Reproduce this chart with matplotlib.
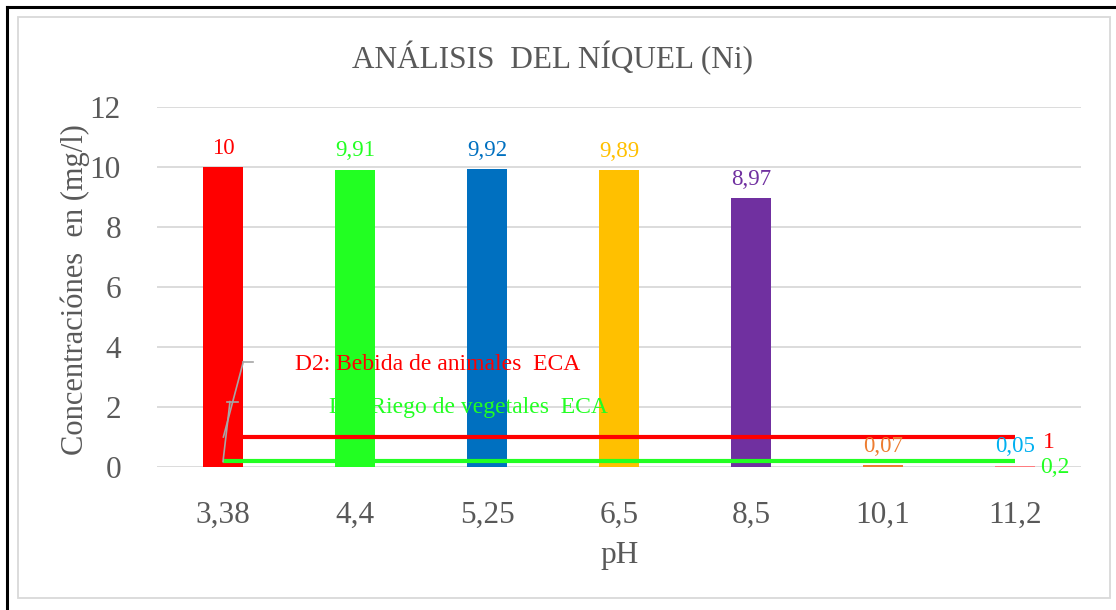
import matplotlib.pyplot as plt
from matplotlib.patches import Rectangle
from matplotlib.lines import Line2D

# datos
ph_labels = ['3,38', '4,4', '5,25', '6,5', '8,5', '10,1', '11,2']
niquel = [10, 9.91, 9.92, 9.89, 8.97, 0.07, 0.05]
etiquetas = ['10', '9,91', '9,92', '9,89', '8,97', '0,07', '0,05']
colores_barra = ['#FF0000', '#22FF22', '#0070C0', '#FFC000', '#7030A0', '#ED7D31', '#FF7C80']
colores_etiq = ['#FF0000', '#22FF22', '#0070C0', '#FFC000', '#7030A0', '#ED7D31', '#00B0F0']
eca_d2 = 1.0   # bebida de animales
eca_d1 = 0.2   # riego de vegetales

plt.rcParams['font.family'] = ['Liberation Serif', 'DejaVu Serif']
gris = '#595959'

fig = plt.figure(figsize=(11.16, 6.10), dpi=100)
W, H = 1116, 610

# marcos
fig.add_artist(Rectangle((18 / W, 1 - 598 / H), (1110 - 18) / W, (598 - 17) / H,
                         transform=fig.transFigure, fill=False, ec='#D9D9D9', lw=1.3))
fig.add_artist(Line2D([6.5 / W, 6.5 / W], [0, 1 - 6.5 / H], transform=fig.transFigure, color='black', lw=2.2))
fig.add_artist(Line2D([6.5 / W, 1], [1 - 6.5 / H, 1 - 6.5 / H], transform=fig.transFigure, color='black', lw=2.2))

ax = fig.add_axes([157 / W, 1 - 467 / H, (1081 - 157) / W, (467 - 107) / H])
x = list(range(len(ph_labels)))

ax.bar(x, niquel, width=0.31, color=colores_barra, zorder=2)
for xi, v, t, c in zip(x, niquel, etiquetas, colores_etiq):
    ax.annotate(t, (xi, v), xytext=(0, 6), textcoords='offset points',
                ha='center', va='bottom', fontsize=16.5, color=c, zorder=5)

# lineas ECA
ax.plot([x[0], x[-1]], [eca_d2, eca_d2], color='#FF0000', lw=3, zorder=3, solid_capstyle='butt')
ax.plot([x[0], x[-1]], [eca_d1, eca_d1], color='#22FF22', lw=3, zorder=3, solid_capstyle='butt')
ax.annotate('1', (x[-1], eca_d2), xytext=(20, -4), textcoords='offset points',
            ha='left', va='center', fontsize=17, color='#FF0000')
ax.annotate('0,2', (x[-1], eca_d1), xytext=(18, -5), textcoords='offset points',
            ha='left', va='center', fontsize=17, color='#22FF22')

ax.text(0.545, 3.4, 'D2: Bebida de animales  ECA', fontsize=17, color='#FF0000',
        ha='left', va='center', zorder=4)
ax.text(0.80, 2.0, 'D1: Riego de vegetales  ECA', fontsize=17, color='#22FF22',
        ha='left', va='center', zorder=4)
# lineas guia de las etiquetas
ax.plot([0.0, 0.053], [eca_d1 - 0.02, 2.18], color='#A6A6A6', lw=1.2, zorder=4)
ax.plot([0.028, 0.115], [2.18, 2.18], color='#A6A6A6', lw=1.2, zorder=4)
ax.plot([0.003, 0.154], [eca_d2, 3.51], color='#A6A6A6', lw=1.2, zorder=4)
ax.plot([0.154, 0.225], [3.51, 3.51], color='#A6A6A6', lw=1.2, zorder=4)

ax.set_xlim(-0.5, len(x) - 0.5)
ax.set_ylim(0, 12)
ax.set_yticks(range(0, 13, 2))
ax.set_xticks(x)
ax.set_xticklabels(ph_labels)
ax.tick_params(axis='both', length=0, labelsize=22.5, labelcolor=gris)
ax.tick_params(axis='y', pad=26)
ax.tick_params(axis='x', pad=24)
ax.grid(axis='y', color='#D9D9D9', lw=1.3, zorder=0)
ax.set_axisbelow(True)
for s in ax.spines.values():
    s.set_visible(False)

fig.text(552 / W, 1 - 68 / H, 'ANÁLISIS  DEL NÍQUEL (Ni)', fontsize=22.5, color=gris,
         ha='center', va='baseline')
fig.text(75 / W, 1 - 290 / H, 'Concentraciónes  en (mg/l)', fontsize=22, color=gris,
         rotation=90, ha='center', va='center')
fig.text(620 / W, 1 - 563 / H, 'pH', fontsize=22.5, color=gris, ha='center', va='baseline')

fig.savefig('out.png', dpi=100)
